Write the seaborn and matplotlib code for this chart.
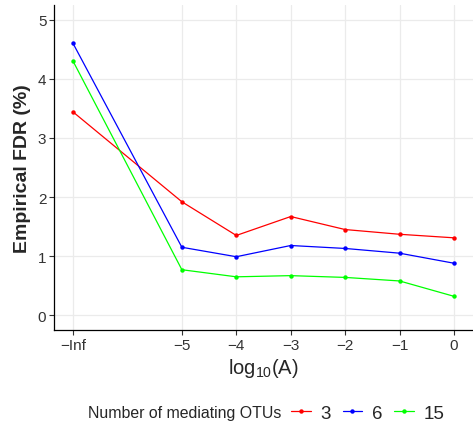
import matplotlib
matplotlib.use("Agg")
import matplotlib.pyplot as plt
import seaborn as sns
import pandas as pd
from matplotlib.lines import Line2D

x_labels = ["\u2212Inf", "\u22125", "\u22124", "\u22123", "\u22122", "\u22121", "0"]
x_pos = [-7, -5, -4, -3, -2, -1, 0]
fdr_3 = [3.44, 1.92, 1.35, 1.67, 1.45, 1.37, 1.31]
fdr_6 = [4.60, 1.15, 0.99, 1.18, 1.13, 1.05, 0.88]
fdr_15 = [4.30, 0.77, 0.65, 0.67, 0.64, 0.58, 0.32]
groups = ["3", "6", "15"]
colors = {"3": "#FF0000", "6": "#0000FF", "15": "#00FF00"}

rows = []
for g, vals in zip(groups, [fdr_3, fdr_6, fdr_15]):
    for xp, v in zip(x_pos, vals):
        rows.append({"x": xp, "fdr": v, "otus": g})
df = pd.DataFrame(rows)

sns.set_style("white")
plt.rcParams["font.family"] = ["Liberation Sans", "DejaVu Sans"]
plt.rcParams["mathtext.fontset"] = "custom"
plt.rcParams["mathtext.rm"] = "Liberation Sans"

W, H = 473, 427
fig = plt.figure(figsize=(W / 100, H / 100), dpi=100)
ax = fig.add_axes([54 / W, 1 - 331 / H, (473 - 54) / W, (331 - 6) / H])

sns.lineplot(data=df, x="x", y="fdr", hue="otus", hue_order=groups, palette=colors,
             marker="o", markersize=3.2, markeredgewidth=0, linewidth=0.9,
             ax=ax, legend=False, zorder=3)

ax.set_xlim(-7.35, 0.35)
ax.set_ylim(-0.25, 5.25)
ax.set_xticks(x_pos)
ax.set_xticklabels(x_labels)
ax.set_yticks([0, 1, 2, 3, 4, 5])
ax.grid(True, color="#EBEBEB", linewidth=0.9, zorder=0)
ax.set_axisbelow(True)
for s in ["top", "right"]:
    ax.spines[s].set_visible(False)
for s in ["left", "bottom"]:
    ax.spines[s].set_color("black")
    ax.spines[s].set_linewidth(0.9)
ax.tick_params(axis="both", which="major", length=3.5, width=0.8, color="#333333",
               labelsize=11, labelcolor="#333333", pad=2, direction="out",
               bottom=True, left=True)
ax.set_xlabel(r"$\mathregular{log_{10}(A)}$", fontsize=14.5, labelpad=3)
ax.set_ylabel("Empirical FDR (%)", fontsize=14, fontweight="bold", labelpad=5)

fig.text(88 / W, 1 - 414 / H, "Number of mediating OTUs", fontsize=11.4, va="center", ha="left")
handles = [Line2D([0], [0], color=colors[g], lw=0.9, marker="o", markersize=3.2,
                  markeredgewidth=0) for g in groups]
fig.legend(handles, groups, loc="center left", bbox_to_anchor=(291 / W, 1 - 414 / H),
           ncol=3, frameon=False, fontsize=13.5, handlelength=1.05, handletextpad=0.5,
           columnspacing=0.65, borderpad=0, borderaxespad=0)

fig.savefig("out.png", dpi=100)
